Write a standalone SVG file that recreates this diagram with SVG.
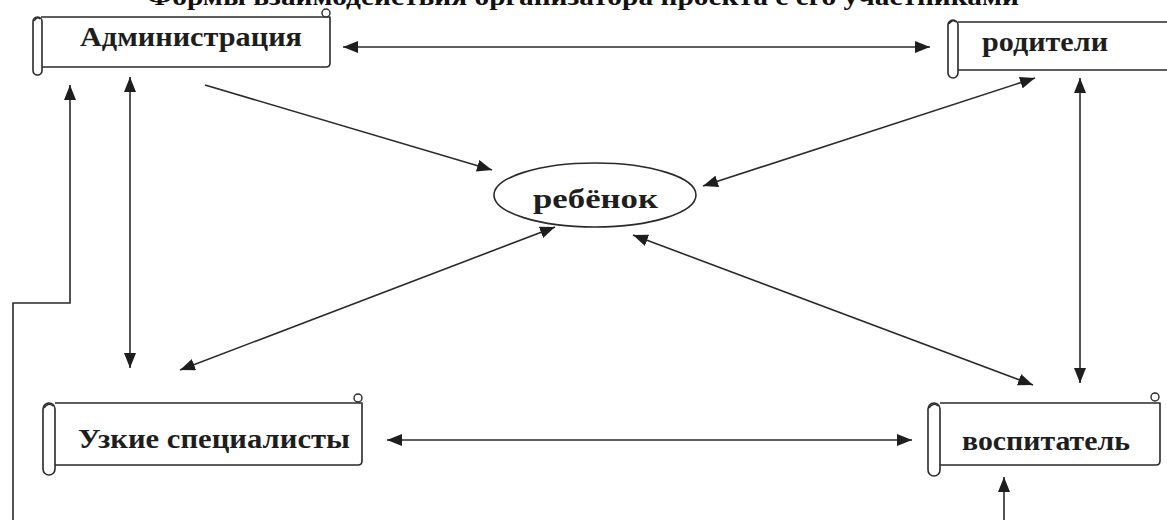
<svg xmlns="http://www.w3.org/2000/svg" width="1167" height="520" viewBox="0 0 1167 520">
<defs>
<style>
.scroll{fill:#fff;stroke:#2a2a2a;stroke-width:1.6;stroke-linejoin:round}
.curl{fill:#fff;stroke:#2a2a2a;stroke-width:1.4}
.lbl{font-family:"Liberation Serif","Times New Roman",serif;font-weight:bold;font-size:28px;fill:#1e1e1e}
.title{font-family:"Liberation Serif","Times New Roman",serif;font-weight:bold;font-size:26px;fill:#111}
.con{fill:none;stroke:#2a2a2a;stroke-width:1.6}
</style>
<marker id="ah" viewBox="0 0 15 12" refX="15" refY="6" markerWidth="15" markerHeight="12" markerUnits="userSpaceOnUse" orient="auto-start-reverse">
<path d="M0,0 L15,6 L0,12 z" fill="#1e1e1e"/>
</marker>
</defs>
<rect width="1167" height="520" fill="#fff"/>
<text class="title" x="583" y="5" text-anchor="middle" textLength="872" lengthAdjust="spacingAndGlyphs">Формы взаимодействия организатора проекта с его участниками</text>

<g id="node-admin">
<path class="scroll" d="M41,17 L326,17 L330,17 L330,63 Q330,67 326,67 L41,67"/>
<circle class="curl" cx="326" cy="13" r="4"/>
<rect class="scroll" x="33" y="17" width="9" height="58" rx="4.5"/>
<path class="curl" d="M34,21 Q37,16 40,19"/>
<text class="lbl" x="80" y="46" textLength="222" lengthAdjust="spacingAndGlyphs">Администрация</text>
</g>

<g id="node-parents">
<path class="scroll" d="M958,22 L1170,22 M958,70 L1170,70"/>
<rect class="scroll" x="948" y="20" width="10" height="58" rx="5"/>
<path class="curl" d="M949,24 Q952,19 956,22"/>
<text class="lbl" x="982" y="51" textLength="126" lengthAdjust="spacingAndGlyphs">родители</text>
</g>

<g id="node-child">
<ellipse class="scroll" cx="595" cy="195" rx="101" ry="32"/>
<text class="lbl" x="533" y="208" font-size="30" textLength="125" lengthAdjust="spacingAndGlyphs">ребёнок</text>
</g>

<g id="node-specialists">
<path class="scroll" d="M55,403 L358,403 L362,403 L362,461 Q362,465 358,465 L55,465"/>
<circle class="curl" cx="358" cy="398" r="4"/>
<rect class="scroll" x="43" y="403" width="12" height="72" rx="6"/>
<path class="curl" d="M44,408 Q48,402 53,406"/>
<text class="lbl" x="78" y="448" textLength="272" lengthAdjust="spacingAndGlyphs">Узкие специалисты</text>
</g>

<g id="node-teacher">
<path class="scroll" d="M940,403 L1155,403 L1160,403 L1160,461 Q1160,465 1156,465 L940,465"/>
<circle class="curl" cx="1155" cy="397" r="4"/>
<rect class="scroll" x="928" y="403" width="12" height="73" rx="6"/>
<path class="curl" d="M929,408 Q933,402 938,406"/>
<text class="lbl" x="962" y="450" textLength="168" lengthAdjust="spacingAndGlyphs">воспитатель</text>
</g>

<g id="connectors">
<line class="con" x1="343" y1="47" x2="930" y2="47" marker-start="url(#ah)" marker-end="url(#ah)"/>
<line class="con" x1="130" y1="77" x2="130" y2="368" marker-start="url(#ah)" marker-end="url(#ah)"/>
<line class="con" x1="205" y1="85" x2="492" y2="170" marker-end="url(#ah)"/>
<line class="con" x1="703" y1="186" x2="1035" y2="78" marker-start="url(#ah)" marker-end="url(#ah)"/>
<line class="con" x1="555" y1="227" x2="180" y2="370" marker-start="url(#ah)" marker-end="url(#ah)"/>
<line class="con" x1="633" y1="235" x2="1033" y2="385" marker-start="url(#ah)" marker-end="url(#ah)"/>
<line class="con" x1="1080" y1="78" x2="1080" y2="383" marker-start="url(#ah)" marker-end="url(#ah)"/>
<line class="con" x1="387" y1="440" x2="912" y2="440" marker-start="url(#ah)" marker-end="url(#ah)"/>
<polyline class="con" points="13,522 13,303 70,303 70,85" marker-end="url(#ah)"/>
<line class="con" x1="1004" y1="522" x2="1004" y2="477" marker-end="url(#ah)"/>
</g>
</svg>
